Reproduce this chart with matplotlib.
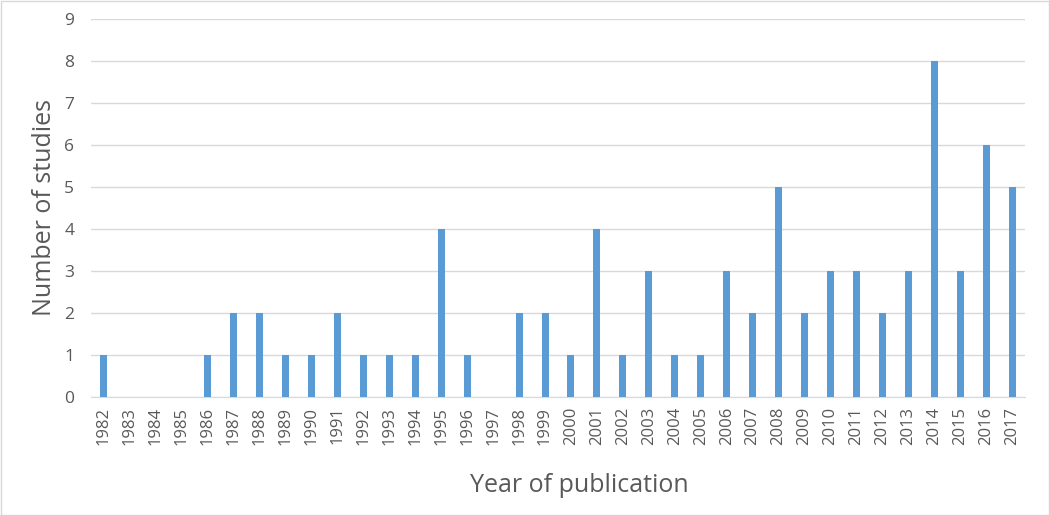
import matplotlib
matplotlib.use("Agg")
import matplotlib.pyplot as plt
import numpy as np

years = [str(y) for y in range(1982, 2018)]
counts = [1, 0, 0, 0, 1, 2, 2, 1, 1, 2, 1, 1, 1, 4, 1, 0, 2, 2, 1, 4,
          1, 3, 1, 1, 3, 2, 5, 2, 3, 3, 2, 3, 8, 3, 6, 5]
yticks = list(range(0, 10))

plt.rcParams['font.family'] = ['Open Sans', 'DejaVu Sans']
txt = '#595959'

fig = plt.figure(figsize=(10.49, 5.15), dpi=100)
ax = fig.add_axes([91/1049, 1-397/515, 934/1049, 378/515])
x = np.arange(len(years))
ax.bar(x, counts, width=0.27, color='#5B9BD5', zorder=3)
ax.set_xlim(-0.5, len(years)-0.5)
ax.set_ylim(0, 9)
ax.set_yticks(yticks)
ax.set_xticks(x)
ax.set_xticklabels(years, rotation=90, fontsize=12, color=txt)
ax.tick_params(axis='y', labelsize=12.5, colors=txt, length=0, pad=12)
ax.tick_params(axis='x', length=0, pad=7)
ax.grid(axis='y', color='#D9D9D9', linewidth=1, zorder=0)
for s in ['top', 'right', 'left']:
    ax.spines[s].set_visible(False)
ax.spines['bottom'].set_color('#D9D9D9')
ax.set_ylabel('Number of studies', fontsize=18, color=txt, labelpad=5)
ax.set_xlabel('Year of publication', fontsize=18, color=txt, labelpad=20)
ax.xaxis.label.set_x(0.5225)

border = plt.Rectangle((0.5/1049, 0.5/515), 1-1/1049, 1-1/515, transform=fig.transFigure,
                       fill=False, edgecolor='#D9D9D9', linewidth=1)
fig.patches.append(border)
fig.savefig('out.png', dpi=100)
